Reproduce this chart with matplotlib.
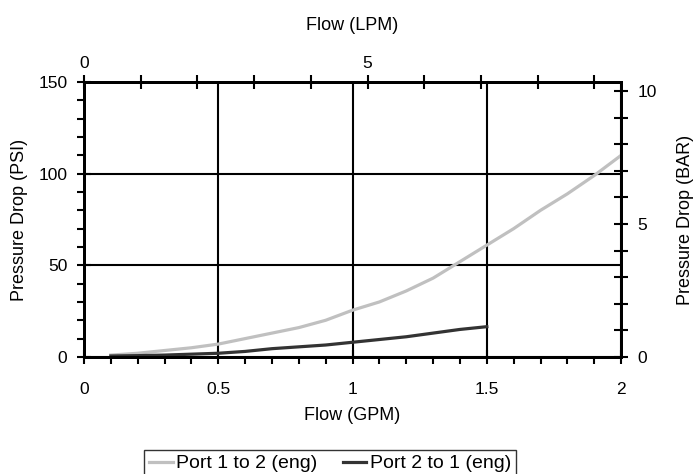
import matplotlib.pyplot as plt
from matplotlib.ticker import MultipleLocator

plt.rcParams['font.family'] = ['Liberation Sans', 'DejaVu Sans']

# Flow in GPM
flow_12 = [0.1, 0.2, 0.3, 0.4, 0.5, 0.6, 0.7, 0.8, 0.9, 1.0,
           1.1, 1.2, 1.3, 1.4, 1.5, 1.6, 1.7, 1.8, 1.9, 2.0]
psi_12 = [1, 2, 3.5, 5, 7, 10, 13, 16, 20, 25.5,
          30, 36, 43, 52, 61, 70, 80, 89, 99, 110]

flow_21 = [0.1, 0.2, 0.3, 0.4, 0.5, 0.6, 0.7, 0.8, 0.9, 1.0,
           1.1, 1.2, 1.3, 1.4, 1.5]
psi_21 = [0.5, 0.7, 1, 1.5, 2, 3, 4.5, 5.5, 6.5, 8,
          9.5, 11, 13, 15, 16.5]

fig = plt.figure(figsize=(6.94, 4.74), dpi=100)
ax = fig.add_axes([0.121, 0.247, 0.774, 0.580])

ax.plot(flow_12, psi_12, color='#c0c0c0', lw=2.3, label='Port 1 to 2 (eng)')
ax.plot(flow_21, psi_21, color='#333333', lw=2.3, label='Port 2 to 1 (eng)')

ax.set_xlim(0, 2)
ax.set_ylim(0, 150)
ax.xaxis.set_major_locator(MultipleLocator(0.5))
ax.xaxis.set_minor_locator(MultipleLocator(0.1))
ax.yaxis.set_major_locator(MultipleLocator(50))
ax.yaxis.set_minor_locator(MultipleLocator(10))
ax.set_xticks([0, 0.5, 1, 1.5, 2])
ax.set_xticklabels(['0', '0.5', '1', '1.5', '2'])
ax.tick_params(axis='x', which='major', direction='inout', length=10, width=1.5, labelsize=12.5, pad=13)
ax.tick_params(axis='x', which='minor', direction='out', length=5, width=1.5)
ax.tick_params(axis='y', which='major', direction='inout', length=10, width=1.5, labelsize=12.5, pad=7)
ax.tick_params(axis='y', which='minor', direction='out', length=5, width=1.5)
ax.grid(True, which='major', color='black', lw=1.5)
ax.set_xlabel('Flow (GPM)', fontsize=13, labelpad=7)
ax.set_ylabel('Pressure Drop (PSI)', fontsize=13, labelpad=7)

# BAR axis on right
ax_bar = ax.twinx()
ax_bar.set_ylim(0, 150 / 14.5038)
ax_bar.yaxis.set_major_locator(MultipleLocator(5))
ax_bar.yaxis.set_minor_locator(MultipleLocator(1))
ax_bar.tick_params(axis='y', which='both', direction='inout', length=10, width=1.5, labelsize=12.5, pad=7)
ax_bar.set_ylabel('Pressure Drop (BAR)', fontsize=13, labelpad=14)

# LPM axis on top
ax_lpm = ax.twiny()
ax_lpm.set_xlim(0, 9.47)
ax_lpm.xaxis.set_major_locator(MultipleLocator(5))
ax_lpm.xaxis.set_minor_locator(MultipleLocator(1))
ax_lpm.tick_params(axis='x', which='both', direction='inout', length=10, width=1.5, labelsize=12.5, pad=3)
ax_lpm.set_xlabel('Flow (LPM)', fontsize=13, labelpad=19)

for a in (ax, ax_bar, ax_lpm):
    for s in a.spines.values():
        s.set_linewidth(2.0)
        s.set_color('black')

handles, labels = ax.get_legend_handles_labels()
leg = fig.legend(handles, labels, loc='center', bbox_to_anchor=(0.476, 0.022), ncol=2,
                 fontsize=14, frameon=True, fancybox=False, edgecolor='black',
                 handlelength=1.2, handletextpad=0.2, columnspacing=1.3,
                 borderpad=0.25)
leg.get_frame().set_linewidth(1.0)

fig.savefig('out.png', dpi=100)
